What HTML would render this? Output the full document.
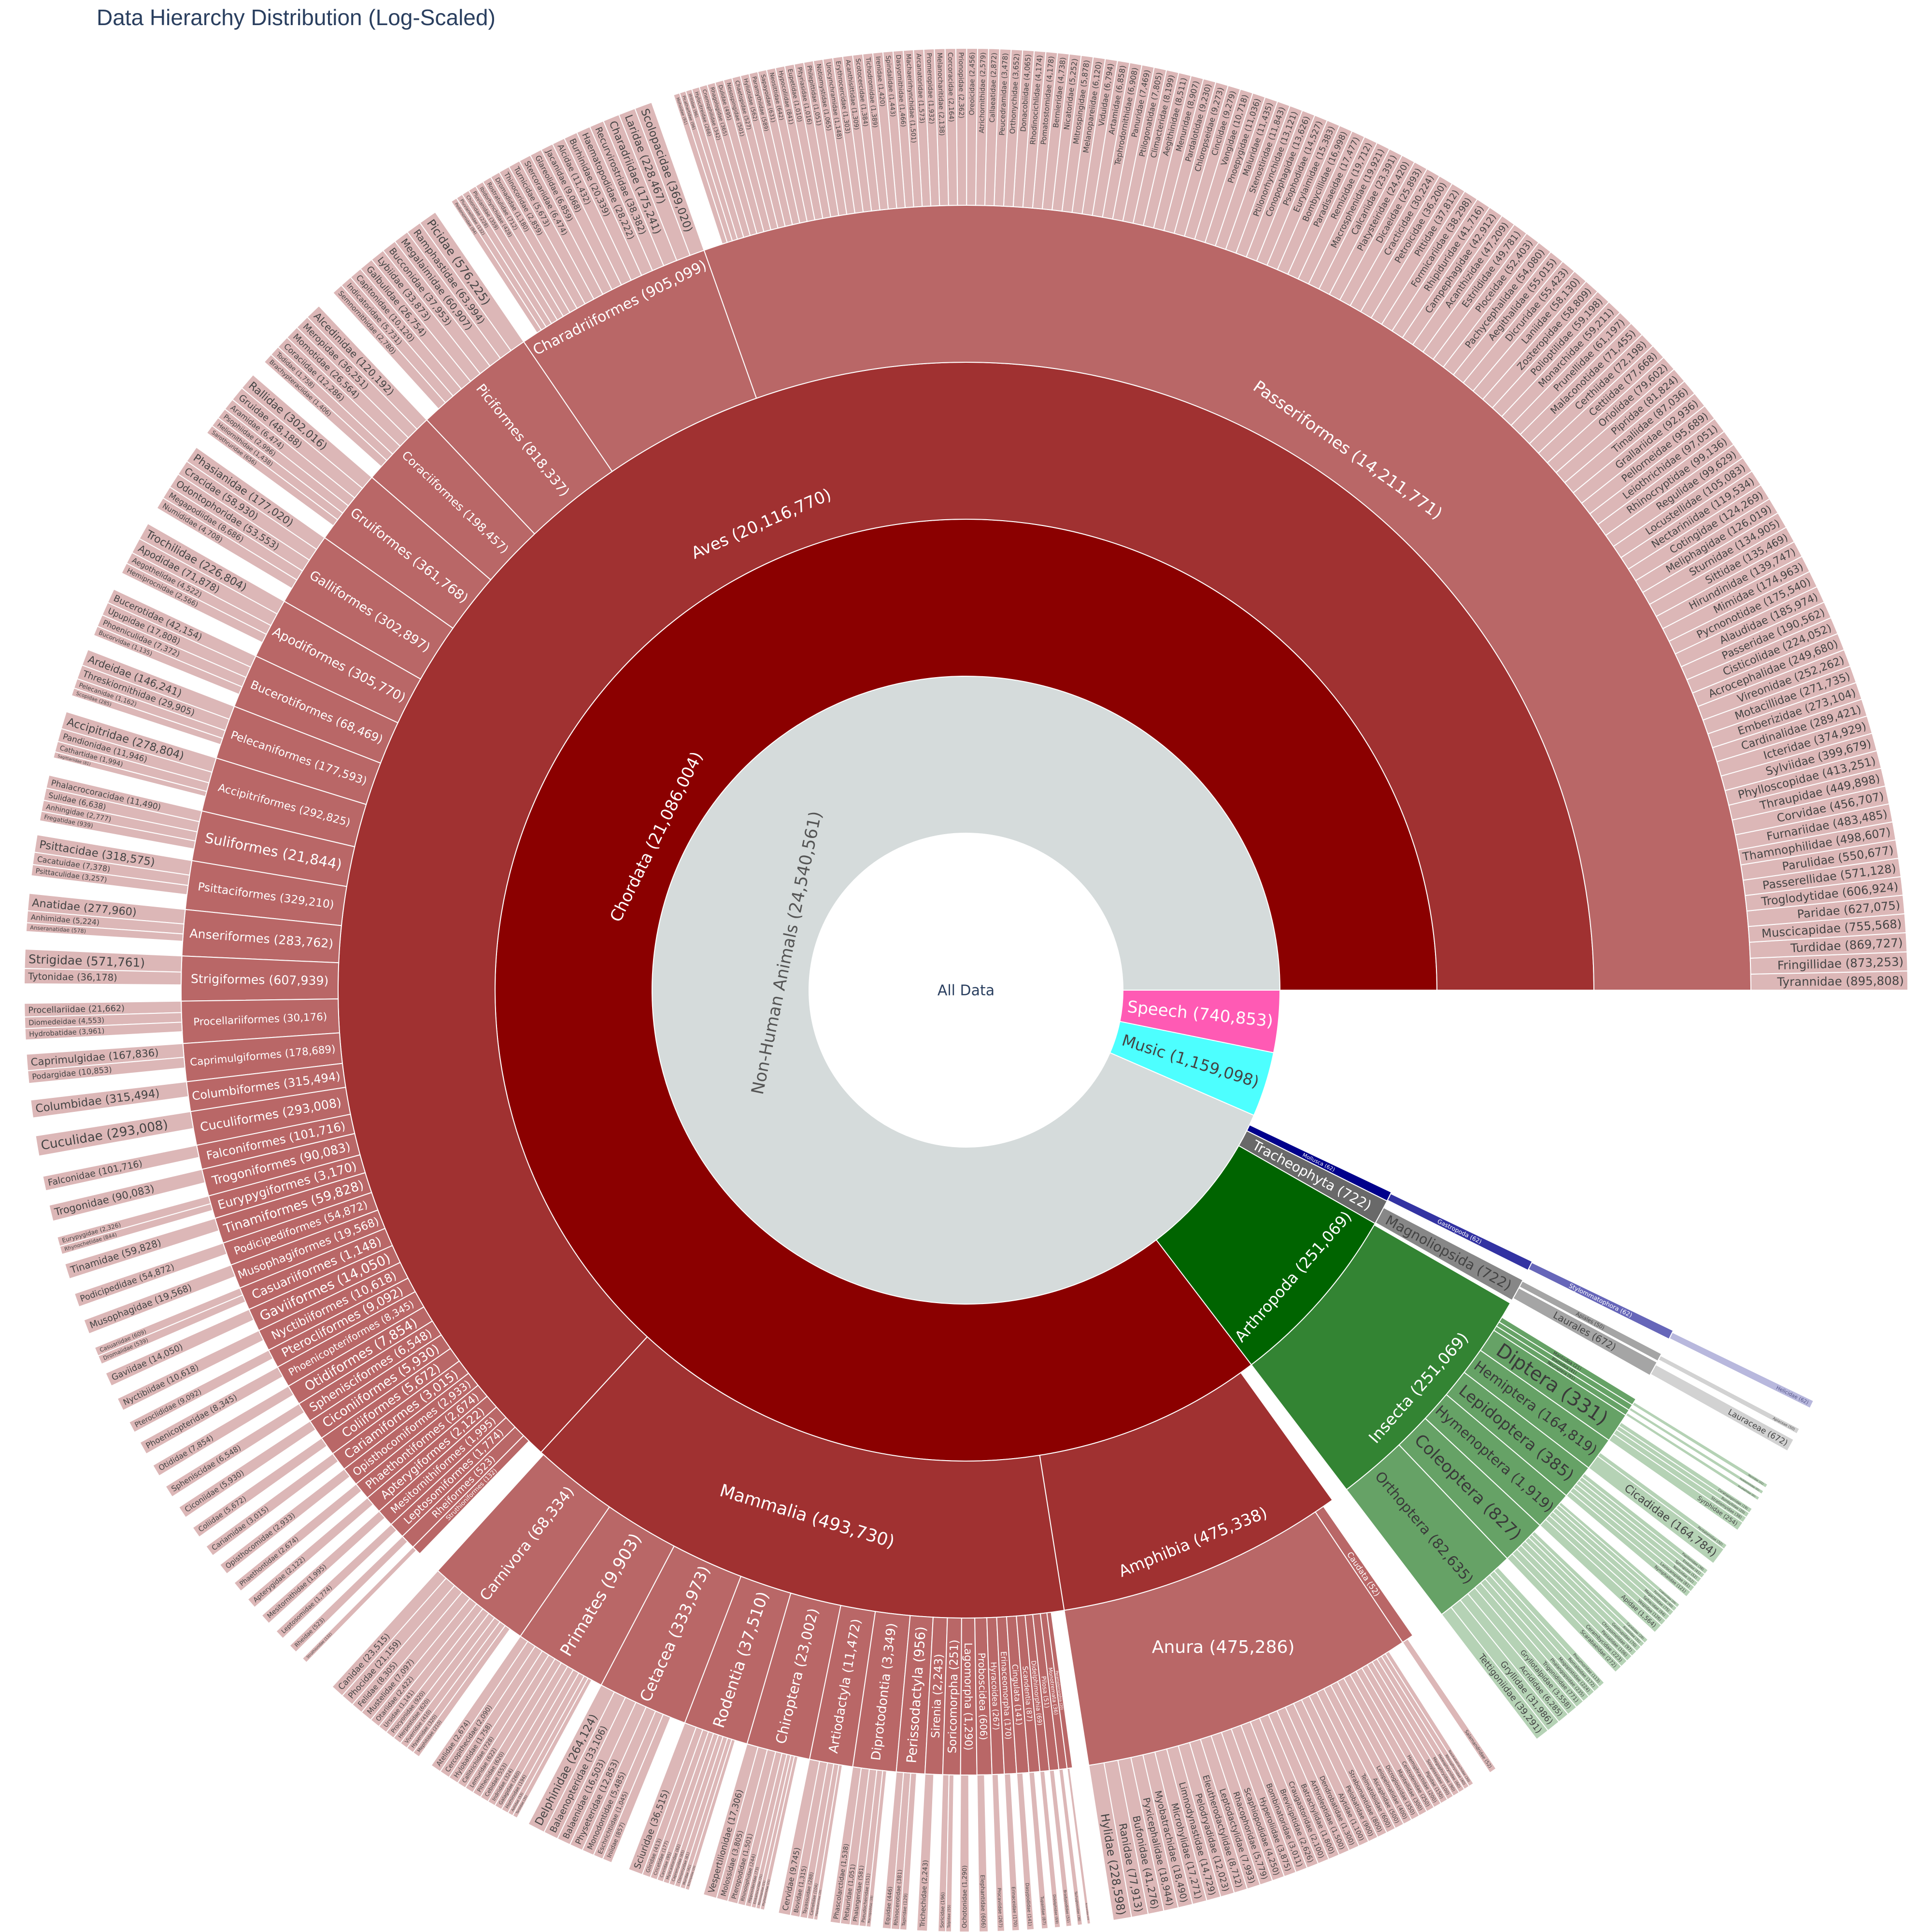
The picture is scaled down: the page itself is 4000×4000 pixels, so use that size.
<!DOCTYPE html>
<html><head><meta charset="utf-8">
<style>
html,body{margin:0;padding:0;background:#fff;width:4000px;height:4000px;overflow:hidden}
svg{display:block}
svg text{font-family:"DejaVu Sans","Liberation Sans",sans-serif}
</style></head>
<body>
<svg id="s" width="4000" height="4000" viewBox="0 0 4000 4000" xmlns="http://www.w3.org/2000/svg">
<rect width="4000" height="4000" fill="#ffffff"/>
<text x="200" y="52" font-size="46" fill="#2a3f5f" style="font-family:'Liberation Sans',sans-serif">Data Hierarchy Distribution (Log-Scaled)</text>
</svg>
<script>
(function(){
const NS='http://www.w3.org/2000/svg', CX=2000, CY=2050, R=[0,325,650,975,1300,1625,1950];
const svg=document.getElementById('s');
const labels=[];
const CW=0.55;
const fmt=v=>String(v).replace(/\B(?=(\d{3})+(?!\d))/g,',');
function P(r,a){const t=a*Math.PI/180;return [CX+r*Math.cos(t),CY+r*Math.sin(t)];}
function add(tag,attrs,txt){const e=document.createElementNS(NS,tag);for(const k in attrs)e.setAttribute(k,attrs[k]);if(txt!=null)e.textContent=txt;svg.appendChild(e);return e;}
function wedge(d,a0,a1,fill){
  const r0=R[d],r1=R[d+1];const large=(a1-a0)>180?1:0;
  const p0=P(r1,a0),p1=P(r1,a1),p2=P(r0,a1),p3=P(r0,a0);
  let s='M'+p0[0].toFixed(2)+' '+p0[1].toFixed(2)+'A'+r1+' '+r1+' 0 '+large+' 1 '+p1[0].toFixed(2)+' '+p1[1].toFixed(2)+'L'+p2[0].toFixed(2)+' '+p2[1].toFixed(2);
  if(r0>0) s+='A'+r0+' '+r0+' 0 '+large+' 0 '+p3[0].toFixed(2)+' '+p3[1].toFixed(2);
  s+='Z';
  add('path',{d:s,fill:fill,stroke:'#ffffff','stroke-width':'2'});
}
function node(d,a0,a1,fill,txt,col,mode,o){wedge(d,a0,a1,fill);if(txt)labels.push([txt,d,a0,a1,col,mode,o||{}]);}
function drawLabel(txt,d,a0,a1,col,mode,o){
  const r0=R[d],r1=R[d+1],w=r1-r0,n=txt.length;
  let am=((a0+a1)/2)%360;if(am<0)am+=360;
  const span=(a1-a0)*Math.PI/180;
  let fs,x,y,rot,anchor='middle';
  const left=am>90&&am<270;
  if(mode==='fam'){
    fs=Math.min(28,r0*span*0.74,w*0.95/(CW*n));
    [x,y]=P(r1-8,am);rot=left?am+180:am;anchor=left?'start':'end';
  }else if(mode==='rad'){
    fs=Math.min(o.max||34,r0*span*0.8,w*0.94/(CW*n));
    [x,y]=P((r0+r1)/2,am);rot=left?am+180:am;
  }else if(mode==='tan'){
    fs=o.fs;[x,y]=P(o.r,am);rot=(am>0&&am<180)?am-90:am+90;
  }else{fs=o.fs;[x,y]=P(o.r,am);rot=0;}
  if(fs<3)return;
  add('text',{x:0,y:0,dy:'0.35em','font-size':fs.toFixed(1),fill:col,'text-anchor':anchor,
    transform:'translate('+x.toFixed(1)+','+y.toFixed(1)+') rotate('+rot.toFixed(2)+')'},txt);
}
function parse(s){return s.split(';').map(x=>{const p=x.split('|');return [p[0],+p[1]];});}
function fams(lo,hi,own,str,col,tcol){
  const L=parse(str);
  const tot=Math.log10(own+1)+L.reduce((a,b)=>a+Math.log10(b[1]+1),0);
  const k=(hi-lo)/tot;let a=hi;
  for(const [n,v] of L){const w=Math.log10(v+1)*k;node(5,a-w,a,col,n+' ('+fmt(v)+')',tcol,'fam');a-=w;}
}

const FAM='#DCB7B7',ORD='#B96767',CLS='#A03131',PHY='#8B0000';
const FAMI='#B5D2B5',ORDI='#66A266',CLSI='#338433',PHYI='#006400';
const WH='#ffffff',DK='#444444';

add('circle',{cx:CX,cy:CY,r:325,fill:'#ffffff'});
labels.push(['All Data',0,0,0,'#2a3f5f','root',{}]);

node(1,0,11.5,'#FF5AB4','Speech (740,853)',WH,'rad',{max:34});
node(1,11.5,23.5,'#4DFFFF','Music (1,159,098)',DK,'rad',{max:34});
node(1,23.5,360,'#D5DBDB','Non-Human Animals (24,540,561)','#555555','tan',{fs:35,r:380});

node(2,25.4,26.6,'#00008B','Mollusca (62)',WH,'rad',{max:20});
node(2,26.6,29.7,'#696969','Tracheophyta (722)',WH,'rad',{max:32});
node(2,29.7,52.7,PHYI,'Arthropoda (251,069)',WH,'tan',{fs:32,r:900});
node(2,52.7,360,PHY,'Chordata (21,086,004)',WH,'tan',{fs:34,r:716});

node(3,25.6,26.5,'#3333A2','Gastropoda (62)',WH,'rad',{max:20});
node(3,27.5,29.6,'#878787','Magnoliopsida (722)',DK,'rad',{max:32});
node(3,29.9,52.7,CLSI,'Insecta (251,069)',WH,'tan',{fs:33,r:1247});
node(3,54.3,81,CLS,'Amphibia (475,338)',WH,'tan',{fs:33,r:1235});
node(3,81,132.6,CLS,'Mammalia (493,730)',WH,'tan',{fs:36,r:1137});
node(3,132.6,360,CLS,'Aves (20,116,770)',WH,'tan',{fs:34,r:1055});

node(4,25.7,26.4,'#6666B9','Stylommatophora (62)',WH,'rad',{max:18});
node(5,25.85,26.35,'#B8B8DD','Helicidae (62)','#555588','fam');
node(4,27.6,28.2,'#A5A5A5','Apiales (50)',DK,'rad',{max:18});
node(4,28.3,29.4,'#A5A5A5','Laurales (672)',DK,'rad',{max:28});
node(5,27.75,28.1,'#D2D2D2','Apiaceae (50)',DK,'fam');
node(5,28.5,29.3,'#D2D2D2','Lauraceae (672)',DK,'fam');

const INS=[
['Mantodea',21,31.4,31.9,'Mantidae|21'],
['Blattodea',41,31.9,32.35,'Hodotermitidae|41'],
['Neuroptera',91,32.35,32.8,'Ascalaphidae|91'],
['Diptera',331,32.8,35,'Syrphidae|254;Stratiomyidae|38;Bombyliidae|20;Ceratopogonidae|19'],
['Hemiptera',164819,35,37.5,'Cicadidae|164784;Pentatomidae|32'],
['Lepidoptera',385,37.5,40.1,'Nymphalidae|121;Lasiocampidae|81;Noctuidae|52;Sphingidae|52;Erebidae|41;Papilionidae|38'],
['Hymenoptera',1919,40.1,43,'Apidae|1564;Vespidae|126;Sphecidae|94;Megachilidae|75;Formicidae|40;Crabronidae|20'],
['Coleoptera',827,43,46.4,'Scarabaeidae|272;Cerambycidae|223;Passalidae|106;Chrysomelidae|97;Geotrupidae|70;Anobiidae|31;Carabidae|28'],
['Orthoptera',82635,46.4,52.7,'Tettigoniidae|39291;Gryllidae|31986;Acrididae|6285;Gryllotalpidae|3558;Trigonidiidae|771;Phalangopsidae|235;Mogoplistidae|224;Romaleidae|172;Pneumoridae|113']
];
for(const o of INS){node(4,o[2],o[3],ORDI,o[0]+' ('+fmt(o[1])+')','#3a3a3a','rad',{max:40});fams(o[2],o[3],o[1],o[4],FAMI,DK);}

node(4,55.3,56.2,ORD,'Caudata (52)',WH,'rad',{max:22});
fams(55.3,56.2,52,'Salamandridae|52',FAM,DK);
node(4,56.2,81,ORD,'Anura (475,286)',WH,'hor',{fs:36,r:1460});
fams(56.2,81,475286,'Hylidae|228598;Ranidae|77913;Bufonidae|41276;Pyxicephalidae|18944;Myobatrachidae|18490;Microhylidae|17271;Limnodynastidae|14729;Pelodryadidae|12023;Eleutherodactylidae|8712;Leptodactylidae|7993;Rhacophoridae|5779;Scaphiopodidae|4250;Hyperoliidae|3875;Bombinatoridae|3011;Brevicipitidae|2626;Craugastoridae|2100;Batrachylidae|1800;Arthroleptidae|1500;Dendrobatidae|1300;Alytidae|1100;Pelobatidae|900;Strabomantidae|800;Telmatobiidae|600;Ascaphidae|500;Leiopelmatidae|400;Dicroglossidae|350;Mantellidae|300;Centrolenidae|250;Hemiphractidae|200;Pipidae|150;Sooglossidae|100;Megophryidae|90;Heleophrynidae|60;Rhinophrynidae|40;Nasikabatrachidae|30',FAM,DK);

const MAM=[
['Carnivora',68334,124.6,132.3,'Canidae|23515;Phocidae|21159;Felidae|8305;Mustelidae|7097;Otariidae|2422;Ursidae|1141;Procyonidae|920;Herpestidae|620;Viverridae|410;Hyaenidae|320;Mephitidae|210'],
['Primates',9903,117.7,124.6,'Atelidae|2674;Cercopithecidae|2090;Hylobatidae|1758;Callitrichidae|728;Lemuridae|622;Pitheciidae|620;Cebidae|553;Indriidae|324;Galagidae|260;Hominidae|194;Aotidae|53;Tarsiidae|35'],
['Cetacea',333973,111,117.7,'Delphinidae|264124;Balaenopteridae|33106;Balaenidae|16503;Physeteridae|12853;Monodontidae|5485;Eschrichtiidae|1045;Iniidae|857'],
['Rodentia',37510,106.2,111,'Sciuridae|36515;Gliridae|413;Cricetidae|177;Caviidae|95;Myocastoridae|82;Capromyidae|65;Ctenomyidae|61;Muridae|41;Echimyidae|20'],
['Chiroptera',23002,101.5,106.2,'Vespertilionidae|17306;Molossidae|3805;Pteropodidae|1501;Rhinolophidae|244;Hipposideridae|73;Emballonuridae|31;Mormoopidae|21;Phyllostomidae|21'],
['Artiodactyla',11472,98.3,101.5,'Cervidae|9745;Bovidae|1315;Tayassuidae|288;Camelidae|104;Hippopotamidae|20'],
['Diprotodontia',3349,95.1,98.3,'Phascolarctidae|1538;Petauridae|1051;Phalangeridae|581;Pseudocheiridae|151;Macropodidae|28'],
['Perissodactyla',956,93,95.1,'Equidae|446;Rhinocerotidae|381;Tapiridae|129'],
['Sirenia',2243,91.7,93,'Trichechidae|2243'],
['Soricomorpha',251,90.4,91.7,'Soricidae|196;Talpidae|55'],
['Lagomorpha',1290,89.2,90.4,'Ochotonidae|1290'],
['Proboscidea',606,88.1,89.2,'Elephantidae|606'],
['Hyracoidea',267,87.2,88.1,'Procaviidae|267'],
['Erinaceomorpha',170,86.3,87.2,'Erinaceidae|170'],
['Cingulata',141,85.4,86.3,'Dasypodidae|141'],
['Scandentia',87,84.6,85.4,'Tupaiidae|87'],
['Didelphimorphia',69,83.9,84.6,'Didelphidae|69'],
['Pilosa',51,83.2,83.9,'Bradypodidae|51'],
['Monotremata',36,82.6,83.2,'Tachyglossidae|36'],
['Peramelemorphia',20,82.2,82.6,'Peramelidae|20']
];
for(const o of MAM){node(4,o[2],o[3],ORD,o[0]+' ('+fmt(o[1])+')',WH,'rad',{max:38});fams(o[2],o[3],o[1],o[4],FAM,DK);}

const AVES=[
['Passeriformes',14211771,250.5,360,'Tyrannidae|895808;Fringillidae|873253;Turdidae|869727;Muscicapidae|755568;Paridae|627075;Troglodytidae|606924;Passerellidae|571128;Parulidae|550677;Thamnophilidae|498607;Furnariidae|483485;Corvidae|456707;Thraupidae|449898;Phylloscopidae|413251;Sylviidae|399679;Icteridae|374929;Cardinalidae|289421;Emberizidae|273104;Motacillidae|271735;Vireonidae|252262;Acrocephalidae|249680;Cisticolidae|224052;Passeridae|190562;Alaudidae|185974;Pycnonotidae|175540;Mimidae|174963;Hirundinidae|139747;Sittidae|135469;Sturnidae|134905;Meliphagidae|126019;Cotingidae|124269;Nectariniidae|119534;Locustellidae|105083;Regulidae|99629;Rhinocryptidae|99136;Leiothrichidae|97051;Pellorneidae|95689;Grallariidae|92936;Timaliidae|87036;Pipridae|81824;Oriolidae|79602;Cettiidae|77668;Certhiidae|72198;Malaconotidae|71455;Prunellidae|61197;Monarchidae|59211;Polioptilidae|59198;Zosteropidae|58809;Laniidae|58130;Dicruridae|55423;Aegithalidae|55015;Pachycephalidae|54080;Ploceidae|52403;Estrildidae|49781;Acanthizidae|47209;Campephagidae|42912;Rhipiduridae|41716;Formicariidae|38298;Pittidae|37812;Petroicidae|36200;Cracticidae|30224;Dicaeidae|25893;Platysteiridae|24420;Calcariidae|23391;Macrosphenidae|19921;Remizidae|19712;Paradisaeidae|17477;Bombycillidae|16998;Eurylaimidae|15383;Psophodidae|14527;Conopophagidae|13626;Ptilonorhynchidae|13121;Stenostiridae|11843;Maluridae|11435;Pnoepygidae|11036;Vangidae|10718;Cinclidae|9279;Chloropseidae|9273;Pardalotidae|9230;Menuridae|8907;Aegithinidae|8511;Climacteridae|8199;Ptilogonatidae|7805;Panuridae|7469;Tephrodornithidae|6908;Artamidae|6858;Viduidae|6794;Melanopareiidae|6120;Mitrospingidae|5878;Nicatoridae|5252;Bernieridae|4738;Pomatostomidae|4178;Rhodinocichlidae|4174;Donacobiidae|4065;Orthonychidae|3652;Peucedramidae|3478;Callaeatidae|2872;Atrichornithidae|2579;Oreoicidae|2456;Prionopidae|2362;Corcoracidae|2164;Melanocharitidae|2138;Promeropidae|1932;Arcanatoridae|1573;Machaerirhynchidae|1501;Dasyornithidae|1466;Spindalidae|1443;Irenidae|1420;Tichodromidae|1389;Scotocercidae|1384;Acanthisittidae|1309;Erythrocercidae|1303;Urocynchramidae|1148;Notiomystidae|1065;Philepittidae|1051;Pityriasidae|1016;Eupetidae|1010;Hypocoliidae|841;Neosittidae|642;Sapayoidae|631;Paramythiidae|589;Hyliotidae|562;Chaetopidae|527;Nesospingidae|501;Dulidae|495;Rhagologidae|365;Cnemophilidae|342;Hylocitreidae|266;Ifritidae|96;Picathartidae|96;Mohoidae|91'],
['Charadriiformes',905099,235.7,250.5,'Scolopacidae|369020;Laridae|228467;Charadriidae|175241;Recurvirostridae|38382;Haematopodidae|28222;Burhinidae|20339;Alcidae|11432;Jacanidae|9068;Glareolidae|6859;Stercorariidae|6474;Turnicidae|5673;Thinocoridae|2859;Dromadidae|1180;Rostratulidae|712;Ibidorhynchidae|428;Pluvianidae|359;Chionidae|228;Pluvianellidae|132;Pedionomidae|94'],
['Piciformes',818337,226.6,235.7,'Picidae|576225;Ramphastidae|63994;Megalaimidae|60907;Bucconidae|37953;Lybiidae|33873;Galbulidae|26754;Capitonidae|10120;Indicatoridae|5731;Semnornithidae|2780'],
['Coraciiformes',198457,220.8,226.6,'Alcedinidae|120192;Meropidae|36251;Momotidae|26564;Coraciidae|12286;Todidae|1758;Brachypteraciidae|1406'],
['Gruiformes',361768,215.2,220.8,'Rallidae|302016;Gruidae|48188;Aramidae|6474;Psophiidae|2996;Heliornithidae|1438;Sarothruridae|656'],
['Galliformes',302897,209.7,215.2,'Phasianidae|177020;Cracidae|58930;Odontophoridae|53553;Megapodiidae|8686;Numididae|4708'],
['Apodiformes',305770,205.2,209.7,'Trochilidae|226804;Apodidae|71878;Aegothelidae|4522;Hemiprocnidae|2566'],
['Bucerotiformes',68469,201.2,205.2,'Bucerotidae|42154;Upupidae|17808;Phoeniculidae|7372;Bucorvidae|1135'],
['Pelecaniformes',177593,197.2,201.2,'Ardeidae|146241;Threskiornithidae|29905;Pelecanidae|1162;Scopidae|285'],
['Accipitriformes',292825,193.2,197.2,'Accipitridae|278804;Pandionidae|11946;Cathartidae|1994;Sagittariidae|81'],
['Suliformes',21844,189.5,193.2,'Phalacrocoracidae|11490;Sulidae|6638;Anhingidae|2777;Fregatidae|939'],
['Psittaciformes',329210,185.9,189.5,'Psittacidae|318575;Cacatuidae|7378;Psittaculidae|3257'],
['Anseriformes',283762,182.5,185.9,'Anatidae|277960;Anhimidae|5224;Anseranatidae|578'],
['Strigiformes',607939,179.2,182.5,'Strigidae|571761;Tytonidae|36178'],
['Procellariiformes',30176,176.1,179.2,'Procellariidae|21662;Diomedeidae|4553;Hydrobatidae|3961'],
['Caprimulgiformes',178689,173.3,176.1,'Caprimulgidae|167836;Podargidae|10853'],
['Columbiformes',315494,171.1,173.3,'Columbidae|315494'],
['Cuculiformes',293008,168.6,171.1,'Cuculidae|293008'],
['Falconiformes',101716,166.8,168.6,'Falconidae|101716'],
['Trogoniformes',90083,164.8,166.8,'Trogonidae|90083'],
['Eurypygiformes',3170,163.1,164.8,'Eurypygidae|2326;Rhynochetidae|844'],
['Tinamiformes',59828,161.2,163.1,'Tinamidae|59828'],
['Podicipediformes',54872,159.5,161.2,'Podicipedidae|54872'],
['Musophagiformes',19568,157.7,159.5,'Musophagidae|19568'],
['Casuariiformes',1148,156.0,157.7,'Casuariidae|609;Dromaiidae|539'],
['Gaviiformes',14050,154.3,156.0,'Gaviidae|14050'],
['Nyctibiiformes',10618,152.7,154.3,'Nyctibiidae|10618'],
['Pterocliformes',9092,151.3,152.7,'Pteroclididae|9092'],
['Phoenicopteriformes',8345,149.7,151.3,'Phoenicopteridae|8345'],
['Otidiformes',7854,148.2,149.7,'Otididae|7854'],
['Sphenisciformes',6548,146.7,148.2,'Spheniscidae|6548'],
['Ciconiiformes',5930,145.2,146.7,'Ciconiidae|5930'],
['Coliiformes',5672,143.8,145.2,'Coliidae|5672'],
['Cariamiformes',3015,142.4,143.8,'Cariamidae|3015'],
['Opisthocomiformes',2933,141.0,142.4,'Opisthocomidae|2933'],
['Phaethontiformes',2674,139.7,141.0,'Phaethontidae|2674'],
['Apterygiformes',2122,138.4,139.7,'Apterygidae|2122'],
['Mesitornithiformes',1995,137.1,138.4,'Mesitornithidae|1995'],
['Leptosomiformes',1774,135.9,137.1,'Leptosomidae|1774'],
['Rheiformes',523,134.8,135.9,'Rheidae|523'],
['Struthioniformes',132,134.1,134.8,'Struthionidae|132']
];
for(const o of AVES){
  const t=o[0]+' ('+fmt(o[1])+')';
  if(o[0]==='Passeriformes') node(4,o[2],o[3],ORD,t,WH,'tan',{fs:34,r:1370});
  else if(o[0]==='Charadriiformes') node(4,o[2],o[3],ORD,t,WH,'tan',{fs:30,r:1585});
  else node(4,o[2],o[3],ORD,t,WH,'rad',{max:38});
  fams(o[2],o[3],o[1],o[4],FAM,DK);
}

for(const L of labels){
  if(L[5]==='root'){add('text',{x:CX,y:CY,dy:'0.35em','font-size':'30',fill:L[4],'text-anchor':'middle'},L[0]);continue;}
  drawLabel(L[0],L[1],L[2],L[3],L[4],L[5],L[6]);
}
})();
</script>
</body></html>
